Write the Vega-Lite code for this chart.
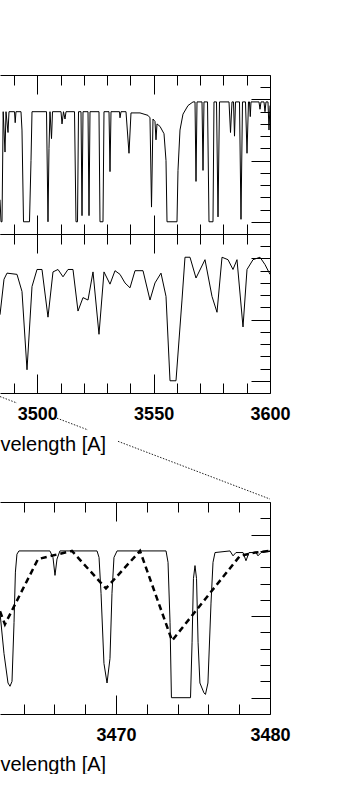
{
  "$schema": "https://vega.github.io/schema/vega-lite/v6.json",
  "padding": {"left": -5, "top": 74, "right": 0, "bottom": 0},
  "background": "white",
  "config": {
    "view": {"stroke": null},
    "axis": {
      "grid": false,
      "domainColor": "#000",
      "domainWidth": 1,
      "tickColor": "#000",
      "tickWidth": 1,
      "labelColor": "#000",
      "titleColor": "#000",
      "labelFont": "Liberation Sans",
      "labelFontSize": 18,
      "labelFontWeight": "bold",
      "titleFont": "Liberation Sans",
      "titleFontSize": 20,
      "titleFontWeight": "normal",
      "labelFlush": false,
      "labelOverlap": false,
      "labelBound": false
    }
  },
  "datasets": {
    "hires_top": [
      {"wl": 3484.00, "flux": 0.18}, {"wl": 3484.43, "flux": 0.00}, {"wl": 3484.86, "flux": 0.00}, {"wl": 3485.37, "flux": 0.90},
      {"wl": 3486.15, "flux": 0.57}, {"wl": 3486.58, "flux": 0.90}, {"wl": 3487.44, "flux": 0.73}, {"wl": 3487.87, "flux": 0.90},
      {"wl": 3490.23, "flux": 0.90}, {"wl": 3490.53, "flux": 0.81}, {"wl": 3490.87, "flux": 0.90}, {"wl": 3493.02, "flux": 0.90},
      {"wl": 3493.45, "flux": 0.75}, {"wl": 3494.10, "flux": 0.00}, {"wl": 3496.67, "flux": 0.00}, {"wl": 3497.32, "flux": 0.50},
      {"wl": 3497.75, "flux": 0.90}, {"wl": 3503.98, "flux": 0.90}, {"wl": 3504.62, "flux": 0.00}, {"wl": 3505.05, "flux": 0.60},
      {"wl": 3505.48, "flux": 0.90}, {"wl": 3506.13, "flux": 0.68}, {"wl": 3506.56, "flux": 0.90}, {"wl": 3510.21, "flux": 0.90},
      {"wl": 3510.64, "flux": 0.80}, {"wl": 3511.28, "flux": 0.90}, {"wl": 3511.93, "flux": 0.84}, {"wl": 3512.36, "flux": 0.90},
      {"wl": 3516.01, "flux": 0.90}, {"wl": 3516.65, "flux": 0.00}, {"wl": 3517.30, "flux": 0.00}, {"wl": 3517.73, "flux": 0.90},
      {"wl": 3518.80, "flux": 0.90}, {"wl": 3519.23, "flux": 0.05}, {"wl": 3519.66, "flux": 0.90}, {"wl": 3521.81, "flux": 0.90},
      {"wl": 3522.24, "flux": 0.05}, {"wl": 3522.67, "flux": 0.90}, {"wl": 3526.53, "flux": 0.90}, {"wl": 3526.96, "flux": 0.00},
      {"wl": 3528.25, "flux": 0.00}, {"wl": 3528.68, "flux": 0.90}, {"wl": 3530.83, "flux": 0.90}, {"wl": 3531.26, "flux": 0.41},
      {"wl": 3531.69, "flux": 0.90}, {"wl": 3535.34, "flux": 0.90}, {"wl": 3535.56, "flux": 0.85}, {"wl": 3535.99, "flux": 0.90},
      {"wl": 3538.13, "flux": 0.90}, {"wl": 3539.42, "flux": 0.56}, {"wl": 3540.28, "flux": 0.89}, {"wl": 3544.15, "flux": 0.89},
      {"wl": 3547.59, "flux": 0.87}, {"wl": 3548.44, "flux": 0.85}, {"wl": 3549.09, "flux": 0.12}, {"wl": 3549.73, "flux": 0.84},
      {"wl": 3550.59, "flux": 0.82}, {"wl": 3551.02, "flux": 0.67}, {"wl": 3551.45, "flux": 0.80}, {"wl": 3552.74, "flux": 0.78},
      {"wl": 3554.46, "flux": 0.72}, {"wl": 3555.32, "flux": 0.50}, {"wl": 3555.75, "flux": 0.00}, {"wl": 3560.04, "flux": 0.00},
      {"wl": 3560.47, "flux": 0.42}, {"wl": 3561.33, "flux": 0.75}, {"wl": 3562.62, "flux": 0.88}, {"wl": 3564.77, "flux": 0.95},
      {"wl": 3566.92, "flux": 0.98}, {"wl": 3567.78, "flux": 0.98}, {"wl": 3568.21, "flux": 0.33}, {"wl": 3568.64, "flux": 0.98},
      {"wl": 3570.79, "flux": 0.98}, {"wl": 3571.22, "flux": 0.42}, {"wl": 3571.64, "flux": 0.98}, {"wl": 3573.15, "flux": 0.98},
      {"wl": 3573.79, "flux": 0.00}, {"wl": 3575.51, "flux": 0.00}, {"wl": 3575.94, "flux": 0.98}, {"wl": 3577.02, "flux": 0.98},
      {"wl": 3577.66, "flux": 0.04}, {"wl": 3578.30, "flux": 0.98}, {"wl": 3582.39, "flux": 0.98}, {"wl": 3583.03, "flux": 0.73},
      {"wl": 3583.67, "flux": 0.98}, {"wl": 3584.32, "flux": 0.98}, {"wl": 3584.75, "flux": 0.70}, {"wl": 3585.18, "flux": 0.98},
      {"wl": 3586.89, "flux": 0.98}, {"wl": 3587.54, "flux": 0.02}, {"wl": 3588.18, "flux": 0.98}, {"wl": 3589.47, "flux": 0.98},
      {"wl": 3590.12, "flux": 0.56}, {"wl": 3590.76, "flux": 0.98}, {"wl": 3591.19, "flux": 0.98}, {"wl": 3591.53, "flux": 0.86},
      {"wl": 3591.84, "flux": 0.98}, {"wl": 3595.27, "flux": 0.98}, {"wl": 3595.70, "flux": 0.92}, {"wl": 3596.13, "flux": 0.98},
      {"wl": 3597.42, "flux": 0.98}, {"wl": 3597.85, "flux": 0.90}, {"wl": 3598.28, "flux": 0.98}, {"wl": 3599.14, "flux": 0.98},
      {"wl": 3599.57, "flux": 0.75}, {"wl": 3600.00, "flux": 0.95}
    ],
    "lores_top": [
      {"wl": 3484.00, "flux": 0.54}, {"wl": 3485.72, "flux": 0.83}, {"wl": 3487.01, "flux": 0.88}, {"wl": 3491.30, "flux": 0.87},
      {"wl": 3493.45, "flux": 0.73}, {"wl": 3495.60, "flux": 0.09}, {"wl": 3497.75, "flux": 0.77}, {"wl": 3499.90, "flux": 0.91},
      {"wl": 3502.04, "flux": 0.91}, {"wl": 3504.62, "flux": 0.52}, {"wl": 3506.77, "flux": 0.89}, {"wl": 3508.92, "flux": 0.91},
      {"wl": 3511.07, "flux": 0.85}, {"wl": 3513.21, "flux": 0.91}, {"wl": 3515.36, "flux": 0.91}, {"wl": 3517.51, "flux": 0.57},
      {"wl": 3519.66, "flux": 0.68}, {"wl": 3521.81, "flux": 0.66}, {"wl": 3523.96, "flux": 0.89}, {"wl": 3526.53, "flux": 0.38},
      {"wl": 3528.68, "flux": 0.89}, {"wl": 3531.26, "flux": 0.79}, {"wl": 3533.41, "flux": 0.90}, {"wl": 3535.56, "flux": 0.87},
      {"wl": 3537.70, "flux": 0.80}, {"wl": 3539.85, "flux": 0.76}, {"wl": 3542.00, "flux": 0.90}, {"wl": 3545.44, "flux": 0.90},
      {"wl": 3548.44, "flux": 0.66}, {"wl": 3550.59, "flux": 0.80}, {"wl": 3553.17, "flux": 0.88}, {"wl": 3555.32, "flux": 0.69},
      {"wl": 3557.04, "flux": 0.00}, {"wl": 3559.61, "flux": 0.00}, {"wl": 3562.19, "flux": 0.66}, {"wl": 3563.48, "flux": 1.01},
      {"wl": 3565.63, "flux": 1.01}, {"wl": 3568.21, "flux": 0.84}, {"wl": 3572.07, "flux": 0.99}, {"wl": 3575.08, "flux": 0.69},
      {"wl": 3577.23, "flux": 0.56}, {"wl": 3579.38, "flux": 1.01}, {"wl": 3581.96, "flux": 0.99}, {"wl": 3584.10, "flux": 0.91},
      {"wl": 3585.82, "flux": 0.99}, {"wl": 3588.40, "flux": 0.44}, {"wl": 3590.12, "flux": 0.91}, {"wl": 3592.70, "flux": 0.99},
      {"wl": 3595.70, "flux": 1.01}, {"wl": 3597.85, "flux": 0.95}, {"wl": 3600.00, "flux": 0.87}
    ],
    "connector": [
      {"seg": 1, "wl": 3484.00, "flux": -0.129}, {"seg": 1, "wl": 3491.30, "flux": -0.182},
      {"seg": 2, "wl": 3508.49, "flux": -0.306}, {"seg": 2, "wl": 3521.81, "flux": -0.402},
      {"seg": 3, "wl": 3534.70, "flux": -0.495}, {"seg": 3, "wl": 3600.00, "flux": -0.967}
    ],
    "hires_zoom": [
      {"wl": 3462.47, "flux": 0.52}, {"wl": 3462.73, "flux": 0.27}, {"wl": 3462.99, "flux": 0.09}, {"wl": 3463.12, "flux": 0.07},
      {"wl": 3463.25, "flux": 0.10}, {"wl": 3463.38, "flux": 0.46}, {"wl": 3463.47, "flux": 0.77}, {"wl": 3463.57, "flux": 0.88},
      {"wl": 3463.70, "flux": 0.90}, {"wl": 3465.71, "flux": 0.90}, {"wl": 3465.91, "flux": 0.86}, {"wl": 3466.04, "flux": 0.75},
      {"wl": 3466.17, "flux": 0.85}, {"wl": 3466.36, "flux": 0.90}, {"wl": 3468.77, "flux": 0.90}, {"wl": 3468.90, "flux": 0.86},
      {"wl": 3469.03, "flux": 0.64}, {"wl": 3469.22, "flux": 0.21}, {"wl": 3469.42, "flux": 0.09}, {"wl": 3469.61, "flux": 0.24},
      {"wl": 3469.74, "flux": 0.64}, {"wl": 3469.87, "flux": 0.86}, {"wl": 3470.07, "flux": 0.90}, {"wl": 3473.25, "flux": 0.90},
      {"wl": 3473.38, "flux": 0.83}, {"wl": 3473.51, "flux": 0.46}, {"wl": 3473.60, "flux": 0.00}, {"wl": 3474.84, "flux": 0.00},
      {"wl": 3474.94, "flux": 0.34}, {"wl": 3475.03, "flux": 0.73}, {"wl": 3475.13, "flux": 0.81}, {"wl": 3475.23, "flux": 0.73},
      {"wl": 3475.33, "flux": 0.34}, {"wl": 3475.45, "flux": 0.09}, {"wl": 3475.71, "flux": 0.03}, {"wl": 3475.81, "flux": 0.02},
      {"wl": 3475.97, "flux": 0.09}, {"wl": 3476.17, "flux": 0.58}, {"wl": 3476.30, "flux": 0.83}, {"wl": 3476.43, "flux": 0.89},
      {"wl": 3477.40, "flux": 0.90}, {"wl": 3477.60, "flux": 0.87}, {"wl": 3477.79, "flux": 0.89}, {"wl": 3478.25, "flux": 0.89},
      {"wl": 3478.44, "flux": 0.84}, {"wl": 3478.64, "flux": 0.89}, {"wl": 3479.09, "flux": 0.89}, {"wl": 3479.22, "flux": 0.87},
      {"wl": 3479.42, "flux": 0.89}, {"wl": 3480.00, "flux": 0.90}
    ],
    "lores_zoom": [
      {"wl": 3462.47, "flux": 0.53}, {"wl": 3462.79, "flux": 0.45}, {"wl": 3464.94, "flux": 0.85}, {"wl": 3467.14, "flux": 0.90},
      {"wl": 3469.35, "flux": 0.67}, {"wl": 3471.56, "flux": 0.90}, {"wl": 3473.64, "flux": 0.35}, {"wl": 3475.84, "flux": 0.61},
      {"wl": 3478.05, "flux": 0.87}, {"wl": 3479.03, "flux": 0.89}, {"wl": 3480.00, "flux": 0.90}
    ]
  },
  "spacing": -1,
  "bounds": "full",
  "vconcat": [
    {
      "spacing": 0,
      "bounds": "flush",
      "vconcat": [
        {
          "width": 270,
          "height": 159,
          "resolve": {"axis": {"x": "independent", "y": "independent"}},
          "layer": [
            {
              "data": {"name": "hires_top"},
              "mark": {"type": "line", "color": "#000", "strokeWidth": 1},
              "encoding": {
                "x": {"field": "wl", "type": "quantitative",
                  "scale": {"domain": [3484, 3600], "nice": false, "zero": false},
                  "axis": {"orient": "top", "values": [3490, 3500, 3510, 3520, 3530, 3540, 3550, 3560, 3570, 3580, 3590, 3600],
                    "tickSize": {"expr": "datum.value % 50 === 0 ? -19 : -10"}, "labels": false, "title": null}},
                "y": {"field": "flux", "type": "quantitative",
                  "scale": {"domain": [-0.1, 1.2], "nice": false, "zero": false},
                  "axis": {"orient": "right", "values": [0, 0.1, 0.2, 0.3, 0.4, 0.5, 0.6, 0.7, 0.8, 0.9, 1.0, 1.1],
                    "tickSize": {"expr": "abs(datum.value * 2 - round(datum.value * 2)) < 0.01 ? -19 : -10"}, "labels": false, "title": null}}
              }
            },
            {
              "data": {"values": []},
              "mark": "rule",
              "encoding": {
                "x": {"field": "wl", "type": "quantitative",
                  "scale": {"domain": [3484, 3600], "nice": false, "zero": false},
                  "axis": {"orient": "bottom", "values": [3490, 3500, 3510, 3520, 3530, 3540, 3550, 3560, 3570, 3580, 3590, 3600],
                    "tickSize": {"expr": "datum.value % 50 === 0 ? -19 : -10"}, "labels": false, "title": null}}
              }
            }
          ]
        },
        {
          "width": 270,
          "height": 159,
          "resolve": {"axis": {"x": "independent", "y": "independent"}},
          "layer": [
            {
              "data": {"name": "lores_top"},
              "mark": {"type": "line", "color": "#000", "strokeWidth": 1},
              "encoding": {
                "x": {"field": "wl", "type": "quantitative",
                  "scale": {"domain": [3484, 3600], "nice": false, "zero": false},
                  "axis": {"orient": "bottom", "values": [3490, 3500, 3510, 3520, 3530, 3540, 3550, 3560, 3570, 3580, 3590, 3600],
                    "tickSize": {"expr": "datum.value % 50 === 0 ? -19 : -10"},
                    "format": "d",
                    "labelExpr": "datum.value % 50 === 0 ? datum.label : ''",
                    "labelPadding": 45,
                    "labelBaseline": "alphabetic",
                    "title": "velength [A]",
                    "titleX": 0,
                    "titleY": 57,
                    "titleAlign": "left",
                    "titleAnchor": "start",
                    "titleBaseline": "alphabetic"}},
                "y": {"field": "flux", "type": "quantitative",
                  "scale": {"domain": [-0.1, 1.2], "nice": false, "zero": false},
                  "axis": {"orient": "right", "values": [0, 0.1, 0.2, 0.3, 0.4, 0.5, 0.6, 0.7, 0.8, 0.9, 1.0, 1.1],
                    "tickSize": {"expr": "abs(datum.value * 2 - round(datum.value * 2)) < 0.01 ? -19 : -10"}, "labels": false, "title": null}}
              }
            },
            {
              "data": {"name": "connector"},
              "mark": {"type": "line", "color": "#222", "strokeWidth": 1, "strokeDash": [1.5, 1.5]},
              "encoding": {
                "x": {"field": "wl", "type": "quantitative",
                  "scale": {"domain": [3484, 3600], "nice": false, "zero": false},
                  "axis": {"orient": "top", "values": [3490, 3500, 3510, 3520, 3530, 3540, 3550, 3560, 3570, 3580, 3590, 3600],
                    "tickSize": {"expr": "datum.value % 50 === 0 ? -19 : -10"}, "labels": false, "title": null}},
                "y": {"field": "flux", "type": "quantitative",
                  "scale": {"domain": [-0.1, 1.2], "nice": false, "zero": false}, "axis": null},
                "detail": {"field": "seg", "type": "nominal"}
              }
            }
          ]
        }
      ]
    },
    {
      "width": 270,
      "height": 212,
      "resolve": {"axis": {"x": "independent", "y": "independent"}},
      "layer": [
        {
          "data": {"name": "hires_zoom"},
          "mark": {"type": "line", "color": "#000", "strokeWidth": 1},
          "encoding": {
            "x": {"field": "wl", "type": "quantitative",
              "scale": {"domain": [3462.47, 3480], "nice": false, "zero": false},
              "axis": {"orient": "bottom", "values": [3464, 3466, 3468, 3470, 3472, 3474, 3476, 3478, 3480],
                "tickSize": {"expr": "datum.value % 10 === 0 ? -19 : -10"},
                "format": "d",
                "labelExpr": "datum.value % 10 === 0 ? datum.label : ''",
                "labelPadding": 45,
                "labelBaseline": "alphabetic",
                "title": "velength [A]",
                "titleX": 0,
                "titleY": 56,
                "titleAlign": "left",
                "titleAnchor": "start",
                "titleBaseline": "alphabetic"}},
            "y": {"field": "flux", "type": "quantitative",
              "scale": {"domain": [-0.1, 1.2], "nice": false, "zero": false},
              "axis": {"orient": "right", "values": [0, 0.1, 0.2, 0.3, 0.4, 0.5, 0.6, 0.7, 0.8, 0.9, 1.0, 1.1],
                "tickSize": {"expr": "abs(datum.value * 2 - round(datum.value * 2)) < 0.01 ? -19 : -10"}, "labels": false, "title": null}}
          }
        },
        {
          "data": {"name": "lores_zoom"},
          "mark": {"type": "line", "color": "#000", "strokeWidth": 2.5, "strokeDash": [6, 4]},
          "encoding": {
            "x": {"field": "wl", "type": "quantitative",
              "scale": {"domain": [3462.47, 3480], "nice": false, "zero": false},
              "axis": {"orient": "top", "values": [3464, 3466, 3468, 3470, 3472, 3474, 3476, 3478, 3480],
                "tickSize": {"expr": "datum.value % 10 === 0 ? -19 : -10"}, "labels": false, "title": null}},
            "y": {"field": "flux", "type": "quantitative",
              "scale": {"domain": [-0.1, 1.2], "nice": false, "zero": false}, "axis": null}
          }
        }
      ]
    }
  ]
}
